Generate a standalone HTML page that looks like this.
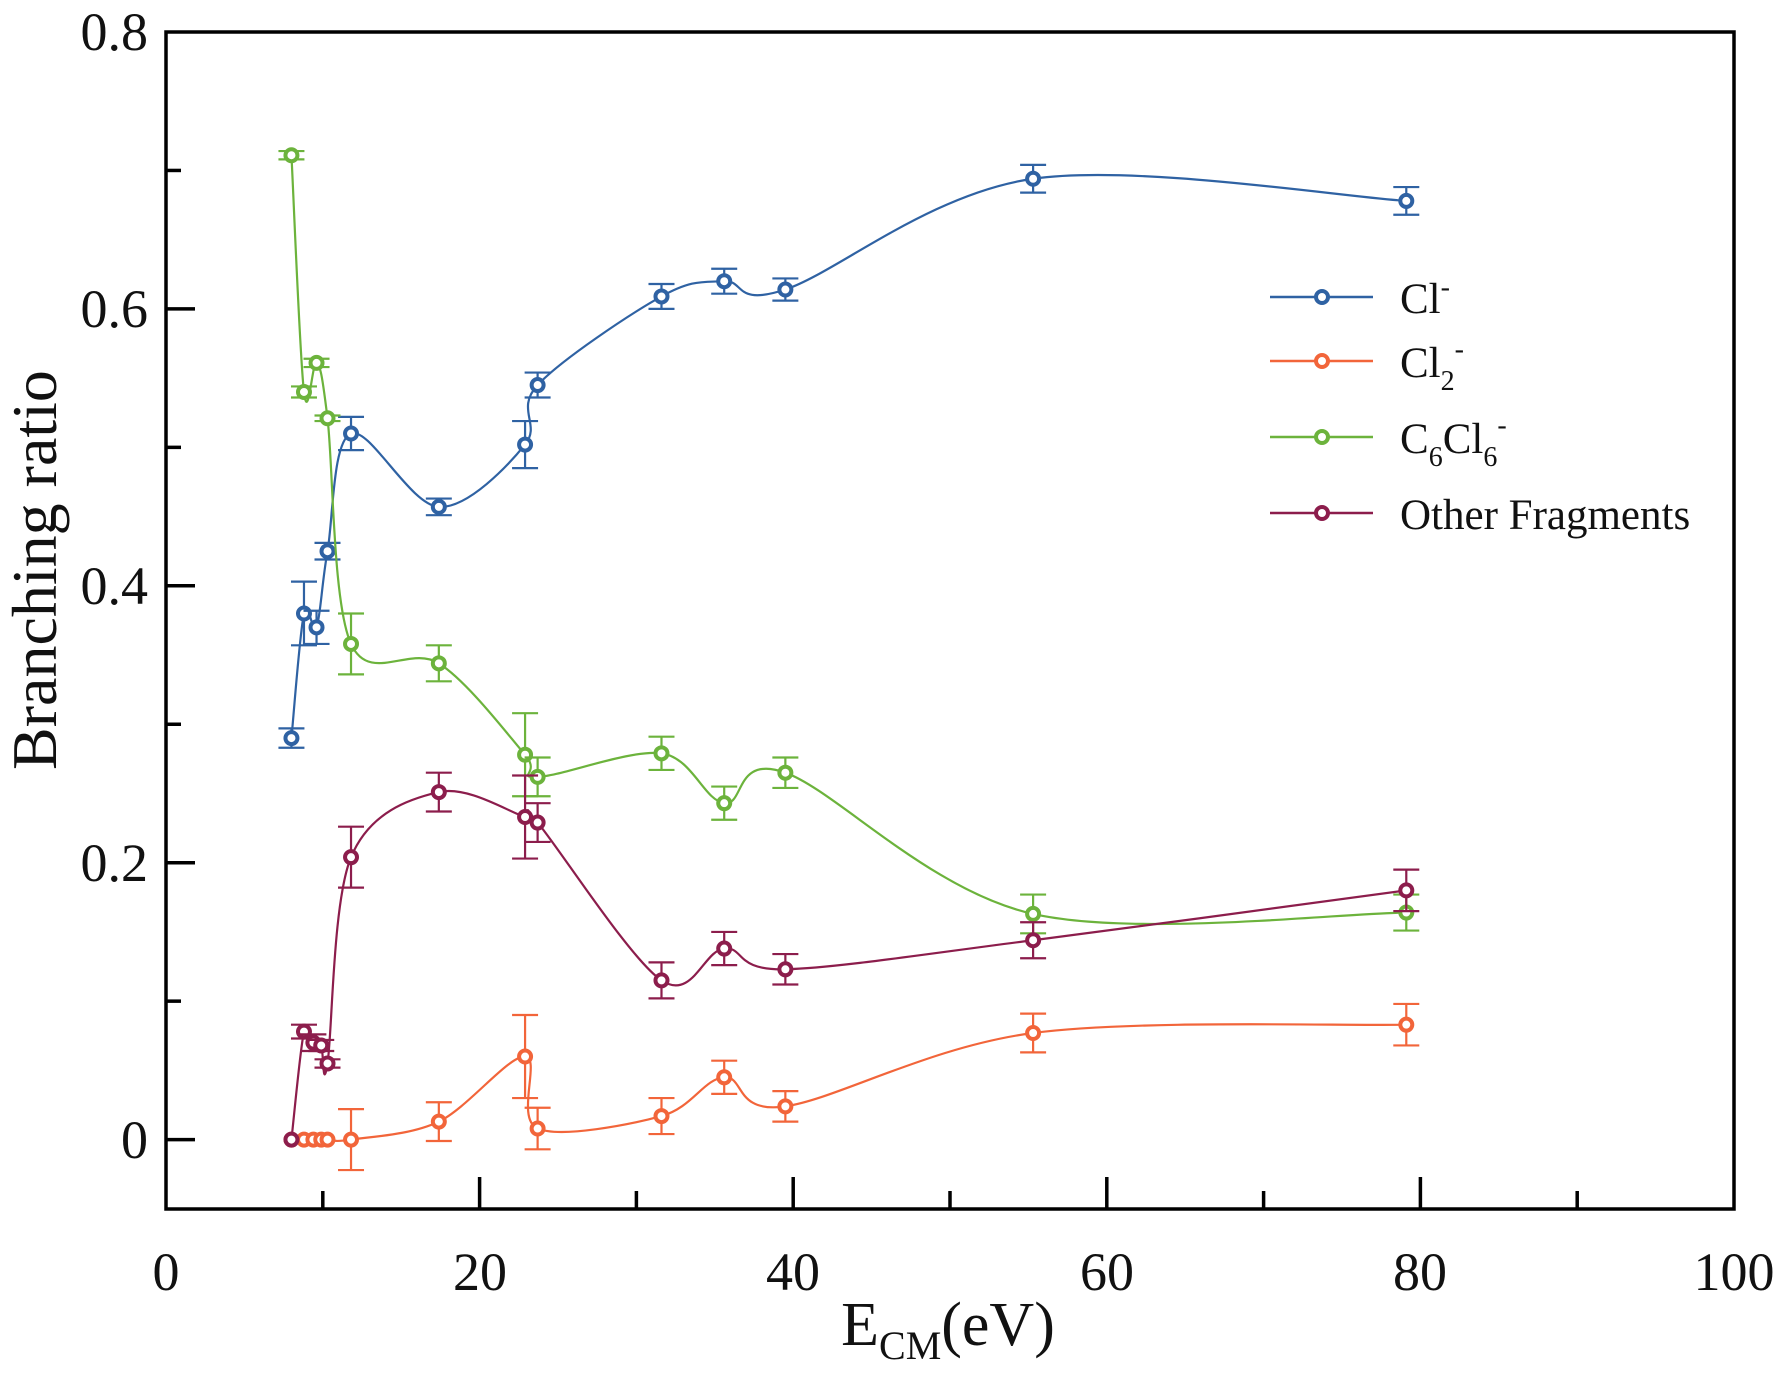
<!DOCTYPE html>
<html><head><meta charset="utf-8"><style>
html,body{margin:0;padding:0;background:#fff;}
svg{display:block;font-family:"Liberation Serif",serif;}
</style></head><body>
<svg id="s" width="1788" height="1392" viewBox="0 0 1788 1392" xmlns="http://www.w3.org/2000/svg">
<rect x="0" y="0" width="1788" height="1392" fill="#fff"/>
<g id="plot"></g>
<rect x="166" y="32" width="1568" height="1177" fill="none" stroke="#000" stroke-width="3.5"/>
<g id="ticks" stroke="#000" stroke-width="3.5"></g>
<g font-size="54" fill="#111">
<text x="148" y="50" text-anchor="end">0.8</text>
<text x="148" y="327" text-anchor="end">0.6</text>
<text x="148" y="604" text-anchor="end">0.4</text>
<text x="148" y="881" text-anchor="end">0.2</text>
<text x="148" y="1158" text-anchor="end">0</text>
<text x="166" y="1290" text-anchor="middle">0</text>
<text x="480" y="1290" text-anchor="middle">20</text>
<text x="793" y="1290" text-anchor="middle">40</text>
<text x="1107" y="1290" text-anchor="middle">60</text>
<text x="1420" y="1290" text-anchor="middle">80</text>
<text x="1734" y="1290" text-anchor="middle">100</text>
</g>
<text transform="translate(56,570) rotate(-90)" font-size="64" text-anchor="middle" fill="#111">Branching ratio</text>
<text x="948" y="1345" font-size="62" text-anchor="middle" fill="#111">E<tspan font-size="40" dy="14">CM</tspan><tspan dy="-14">(eV)</tspan></text>
<g font-size="43" fill="#111">
<text x="1400" y="313">Cl<tspan font-size="28" dy="-17">-</tspan></text>
<text x="1400" y="377">Cl<tspan font-size="28" dy="13">2</tspan><tspan font-size="28" dy="-32">-</tspan></text>
<text x="1400" y="453">C<tspan font-size="28" dy="13">6</tspan><tspan dy="-13">Cl</tspan><tspan font-size="28" dy="13">6</tspan><tspan font-size="28" dy="-32">-</tspan></text>
<text x="1400" y="529">Other Fragments</text>
</g>
<g id="leg"></g>
</svg>
<script>
var NS="http://www.w3.org/2000/svg";
function X(x){return 166+15.68*x;}
function Y(y){return 1139.6-1384.5*y;}
var xs=[8,8.8,9.6,10.3,11.8,17.4,22.9,23.7,31.6,35.6,39.5,55.3,79.1];
var xs2=[8,8.8,9.4,9.9,10.3,11.8,17.4,22.9,23.7,31.6,35.6,39.5,55.3,79.1];
var series=[
{c:"#2f62a3",x:xs,y:[.29,.38,.37,.425,.51,.457,.502,.545,.609,.62,.614,.694,.678],e:[.007,.023,.012,.006,.012,.006,.017,.009,.009,.009,.008,.01,.01]},
{c:"#f2653a",x:xs2,y:[0,0,0,0,0,0,.013,.06,.008,.017,.045,.024,.077,.083],e:[0,0,0,0,0,.022,.014,.03,.015,.013,.012,.011,.014,.015]},
{c:"#6cb33c",x:xs,y:[.711,.54,.561,.521,.358,.344,.278,.262,.279,.243,.265,.163,.164],e:[.003,.004,.003,.002,.022,.013,.03,.014,.012,.012,.011,.014,.013]},
{c:"#8c1d4c",x:xs2,y:[0,.078,.07,.068,.055,.204,.251,.233,.229,.115,.138,.123,.144,.18],e:[0,.005,.006,.004,.003,.022,.014,.03,.014,.013,.012,.011,.013,.015]}
];
function el(n,a,p){var e=document.createElementNS(NS,n);for(var k in a)e.setAttribute(k,a[k]);p.appendChild(e);return e;}
var plot=document.getElementById("plot");
series.forEach(function(s){
 var P=s.x.map(function(x,i){return [X(x),Y(s.y[i])];});
 var d="M"+P[0][0]+","+P[0][1];
 for(var i=0;i<P.length-1;i++){
  var p0=P[i-1]||P[i],p1=P[i],p2=P[i+1],p3=P[i+2]||P[i+1];
  var c1=[p1[0]+(p2[0]-p0[0])/6,p1[1]+(p2[1]-p0[1])/6];
  var c2=[p2[0]-(p3[0]-p1[0])/6,p2[1]-(p3[1]-p1[1])/6];
  d+=" C"+c1+" "+c2+" "+p2;
 }
 el("path",{d:d,fill:"none",stroke:s.c,"stroke-width":2.2},plot);
 P.forEach(function(p,i){
  var e=s.e[i]*1384.5;
  if(e>1){
   el("path",{d:"M"+p[0]+","+(p[1]-e)+"V"+(p[1]+e)+"M"+(p[0]-13)+","+(p[1]-e)+"h26M"+(p[0]-13)+","+(p[1]+e)+"h26",stroke:s.c,"stroke-width":2.2,fill:"none"},plot);
  }
  el("circle",{cx:p[0],cy:p[1],r:6,fill:"#fff",stroke:s.c,"stroke-width":4},plot);
 });
});
var leg=document.getElementById("leg");
[297,361,437,513].forEach(function(y,i){
 var c=series[i].c;
 el("line",{x1:1270,x2:1373,y1:y,y2:y,stroke:c,"stroke-width":2.5},leg);
 el("circle",{cx:1322,cy:y,r:6,fill:"#fff",stroke:c,"stroke-width":4},leg);
});
var tk=document.getElementById("ticks");
for(var v=10;v<100;v+=10){var x=X(v);var L=(v%20==0)?32:18;el("line",{x1:x,x2:x,y1:1209,y2:1209-L},tk);}
for(var k=0;k<8;k++){var y=Y(k*0.1);var L=(k%2==0)?29:15;el("line",{x1:166,x2:166+L,y1:y,y2:y},tk);}
</script>
</body></html>
